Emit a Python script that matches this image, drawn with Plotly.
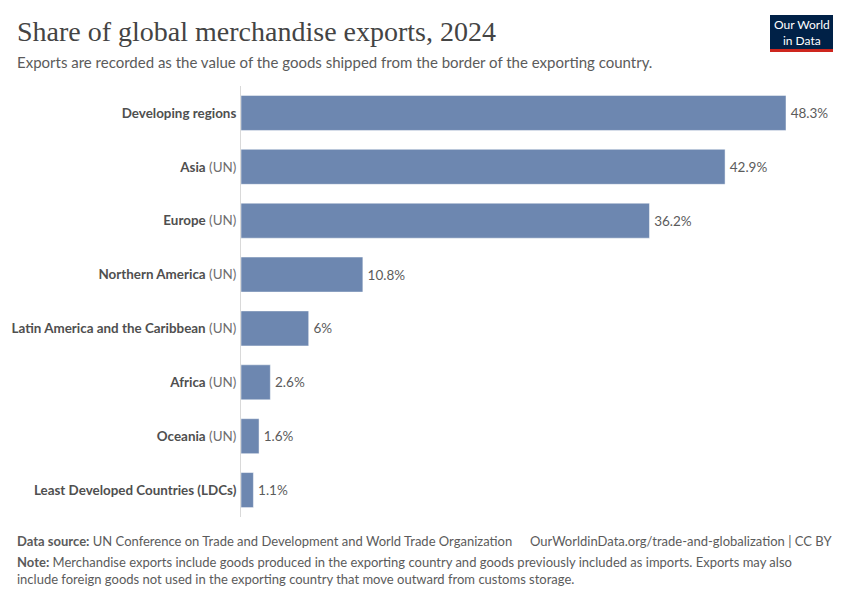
import plotly.graph_objects as go

names = ["Developing regions", "Asia", "Europe", "Northern America",
         "Latin America and the Caribbean", "Africa", "Oceania",
         "Least Developed Countries (LDCs)"]
suffixes = ["", "(UN)", "(UN)", "(UN)", "(UN)", "(UN)", "(UN)", ""]
values = [48.3, 42.9, 36.2, 10.8, 6.0, 2.6, 1.6, 1.1]
value_labels = ["48.3%", "42.9%", "36.2%", "10.8%", "6%", "2.6%", "1.6%", "1.1%"]

ticktext = []
for n, s in zip(names, suffixes):
    t = "<b>" + n + "</b>"
    if s:
        t += " <span style='color:#6e6e6e'>" + s + "</span>"
    ticktext.append(t)

# page has an 8px body margin; compensate so the figure lines up with the 850x600 window
OFF = 8
W, H = 850 - OFF, 600 - OFF
# reference (window) coordinates of plot area
L_ref, R_ref, T_ref, B_ref = 241, 786, 86, 517
left, top = L_ref - OFF, T_ref - OFF
right = W - (R_ref - OFF)
bottom = H - (B_ref - OFF)
pw, ph = W - left - right, H - top - bottom


def px(x):
    return (x - OFF - left) / pw


def py(y):
    return 1 - (y - OFF - top) / ph


fig = go.Figure()
fig.add_trace(go.Bar(
    x=values, y=names, orientation="h",
    marker=dict(color="#6d87b0", line=dict(color="rgba(255,255,255,0.6)", width=0.8)),
    width=0.65,
    text=["\u2009" + v for v in value_labels], textposition="outside", cliponaxis=False,
    textfont=dict(family="Lato", size=13.5, color="#5b5b5b"),
    hoverinfo="skip",
))

fig.update_layout(
    width=W, height=H,
    margin=dict(l=left, r=right, t=top, b=bottom, pad=0, autoexpand=False),
    paper_bgcolor="white", plot_bgcolor="white",
    showlegend=False,
    font=dict(family="Lato", color="#5b5b5b"),
)
fig.update_xaxes(range=[0, max(values)], showgrid=False, zeroline=False, automargin=False,
                 showticklabels=False, showline=False, fixedrange=True)
fig.update_yaxes(autorange="reversed", tickmode="array", tickvals=names, ticktext=ticktext,
                 tickfont=dict(family="Lato", size=13.4, color="#4f4f4f"),
                 showline=True, linecolor="#d9d9d9", linewidth=1, automargin=False,
                 ticks="", ticklabelstandoff=1, showgrid=False, zeroline=False)

# Title and subtitle
fig.add_annotation(text="Share of global merchandise exports, 2024",
                   xref="paper", yref="paper", x=px(15), y=py(14),
                   xanchor="left", yanchor="top", showarrow=False,
                   font=dict(family="Liberation Serif", size=28, color="#444444"))
fig.add_annotation(text="Exports are recorded as the value of the goods shipped from the border of the exporting country.",
                   xref="paper", yref="paper", x=px(15), y=py(51),
                   xanchor="left", yanchor="top", showarrow=False,
                   font=dict(family="Lato", size=15, color="#5b5b5b"))

# Logo
fig.add_shape(type="rect", xref="paper", yref="paper",
              x0=px(770), x1=px(833), y0=py(49), y1=py(15),
              fillcolor="#002147", line=dict(width=0))
fig.add_shape(type="rect", xref="paper", yref="paper",
              x0=px(770), x1=px(833), y0=py(52), y1=py(49),
              fillcolor="#ce261e", line=dict(width=0))
fig.add_annotation(text="Our World<br>in Data", xref="paper", yref="paper",
                   x=px(801.5), y=py(32.5), xanchor="center", yanchor="middle",
                   showarrow=False, align="center",
                   font=dict(family="Lato", size=12, color="white"))

# Footer
fig.add_annotation(text="<b>Data source:</b> UN Conference on Trade and Development and World Trade Organization",
                   xref="paper", yref="paper", x=px(15), y=py(531),
                   xanchor="left", yanchor="top", showarrow=False,
                   font=dict(family="Lato", size=13, color="#5b5b5b"))
fig.add_annotation(text="OurWorldinData.org/trade-and-globalization | CC BY",
                   xref="paper", yref="paper", x=px(834), y=py(531),
                   xanchor="right", yanchor="top", showarrow=False,
                   font=dict(family="Lato", size=13, color="#5b5b5b"))
fig.add_annotation(text="<b>Note:</b> Merchandise exports include goods produced in the exporting country and goods previously included as imports. Exports may also<br>include foreign goods not used in the exporting country that move outward from customs storage.",
                   xref="paper", yref="paper", x=px(15), y=py(552),
                   xanchor="left", yanchor="top", showarrow=False, align="left",
                   font=dict(family="Lato", size=13, color="#5b5b5b"))

fig.write_html("out.html")
